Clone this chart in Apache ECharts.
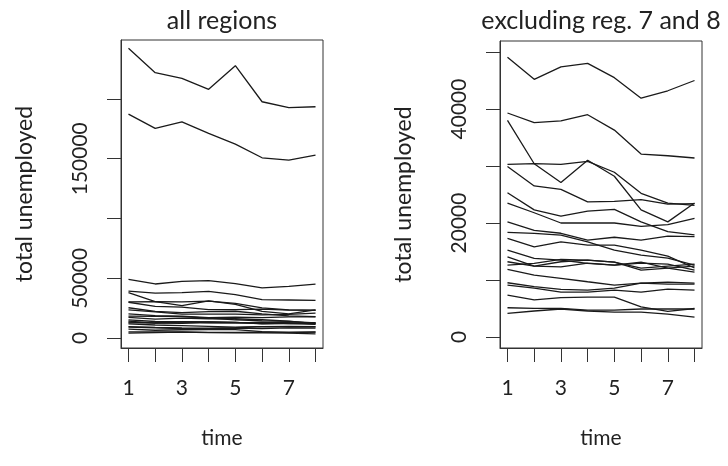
<!DOCTYPE html>
<html>
<head>
<meta charset="utf-8">
<script src="https://cdn.jsdelivr.net/npm/echarts@6/dist/echarts.min.js"></script>
<style>html,body{margin:0;padding:0;background:#fff}#c{width:728px;height:466px}</style>
</head>
<body>
<div id="c"></div>
<script>
const times = [1, 2, 3, 4, 5, 6, 7, 8];
const xTickLabels = [1, 3, 5, 7];
const leftTicks = [0, 50000, 100000, 150000, 200000];
const leftTickLabels = [0, 50000, 150000];
const rightTicks = [0, 10000, 20000, 30000, 40000, 50000];
const rightTickLabels = [0, 20000, 40000];

const reg1  = [49100, 45200, 47400, 48000, 45500, 41900, 43200, 45000];
const reg2  = [39300, 37600, 37900, 39000, 36300, 32100, 31800, 31400];
const reg3  = [38000, 30400, 27100, 31000, 28200, 22300, 20200, 23500];
const reg4  = [30300, 30400, 30300, 30800, 28900, 25200, 23500, 23100];
const reg5  = [29900, 26500, 25900, 23700, 23800, 24100, 23300, 23400];
const reg6  = [25300, 22300, 21200, 22100, 22400, 20200, 18500, 17900];
const reg7  = [242400, 222000, 217300, 208100, 227900, 197700, 192700, 193500];
const reg8  = [187400, 175400, 180900, 171200, 162200, 150800, 148900, 153000];
const reg9  = [23500, 21800, 20000, 20000, 20000, 19400, 19700, 20800];
const reg10 = [20200, 18700, 18200, 17000, 17500, 17000, 17700, 17600];
const reg11 = [18350, 18170, 17880, 16700, 15250, 14370, 13840, 12620];
const reg12 = [17300, 15820, 16700, 16120, 16120, 15250, 14200, 12100];
const reg13 = [15250, 13790, 13490, 12920, 12620, 12970, 12790, 11740];
const reg14 = [14070, 12440, 13200, 13490, 13140, 12090, 12440, 12790];
const reg15 = [13200, 12440, 12320, 12970, 12620, 13140, 12090, 11390];
const reg16 = [12620, 12920, 13620, 13490, 13140, 11740, 12090, 12440];
const reg17 = [11860, 10870, 10290, 9690, 9110, 9460, 9640, 9460];
const reg18 = [9520, 8820, 8360, 8240, 8590, 9460, 9290, 9290];
const reg19 = [9110, 8590, 7890, 7890, 8240, 7890, 8410, 8240];
const reg20 = [7360, 6500, 6900, 7000, 7000, 5300, 4500, 5000];
const reg21 = [5130, 5030, 5030, 4730, 4730, 4910, 4910, 4910];
const reg22 = [4150, 4560, 4910, 4560, 4380, 4380, 4030, 3500];

const allRegions = [reg1, reg2, reg3, reg4, reg5, reg6, reg7, reg8, reg9, reg10, reg11,
  reg12, reg13, reg14, reg15, reg16, reg17, reg18, reg19, reg20, reg21, reg22];
const subset = allRegions.filter(r => r !== reg7 && r !== reg8);

const FONT = 'Lato';
const TXT = '#222';
const AX = '#333';

function mkSeries(arr, idx) {
  return arr.map(r => ({
    type: 'line', xAxisIndex: idx, yAxisIndex: idx,
    data: times.map((t, i) => [t, r[i]]),
    symbol: 'none', silent: true,
    lineStyle: { color: '#1a1a1a', width: 1.3 }
  }));
}

function xAx(idx) {
  return {
    type: 'value', gridIndex: idx, min: 0.72, max: 8.28,
    axisLine: { show: true, onZero: false, lineStyle: { color: AX, width: 1 } },
    axisTick: { show: true, inside: false, length: 14, customValues: times, lineStyle: { color: AX, width: 1 } },
    axisLabel: { customValues: xTickLabels, margin: 30, fontSize: 21, color: TXT, fontFamily: FONT,
      formatter: v => String(v) },
    splitLine: { show: false },
    name: 'time', nameLocation: 'middle', nameGap: 80,
    nameTextStyle: { fontSize: 21, color: TXT, fontFamily: FONT }
  };
}

function yAx(idx, min, max, ticks, labels) {
  return {
    type: 'value', gridIndex: idx, min: min, max: max,
    axisLine: { show: true, onZero: false, lineStyle: { color: AX, width: 1 } },
    axisTick: { show: true, inside: false, length: 14, customValues: ticks, lineStyle: { color: AX, width: 1 } },
    axisLabel: { customValues: labels, rotate: 90, margin: 30, fontSize: 21, color: TXT, fontFamily: FONT,
      formatter: v => String(v) },
    splitLine: { show: false },
    name: 'total unemployed', nameLocation: 'middle', nameGap: 85,
    nameTextStyle: { fontSize: 23, color: TXT, fontFamily: FONT }
  };
}

const chart = echarts.init(document.getElementById('c'), null, { renderer: 'canvas' });
chart.setOption({
  animation: false,
  backgroundColor: '#fff',
  title: [
    { text: 'all regions', left: 222, top: 8, textAlign: 'center', padding: 0,
      textStyle: { fontSize: 25, fontWeight: 'normal', color: TXT, fontFamily: FONT } },
    { text: 'excluding reg. 7 and 8', left: 601, top: 8, textAlign: 'center', padding: 0,
      textStyle: { fontSize: 25, fontWeight: 'normal', color: TXT, fontFamily: FONT } }
  ],
  grid: [
    { left: 121, top: 40, width: 202, height: 308, show: true, borderColor: AX, borderWidth: 1, backgroundColor: 'transparent' },
    { left: 500, top: 41, width: 202, height: 307, show: true, borderColor: AX, borderWidth: 1, backgroundColor: 'transparent' }
  ],
  xAxis: [xAx(0), xAx(1)],
  yAxis: [
    yAx(0, -8370, 249370, leftTicks, leftTickLabels),
    yAx(1, -1930, 51930, rightTicks, rightTickLabels)
  ],
  series: mkSeries(allRegions, 0).concat(mkSeries(subset, 1))
});
</script>
</body>
</html>
